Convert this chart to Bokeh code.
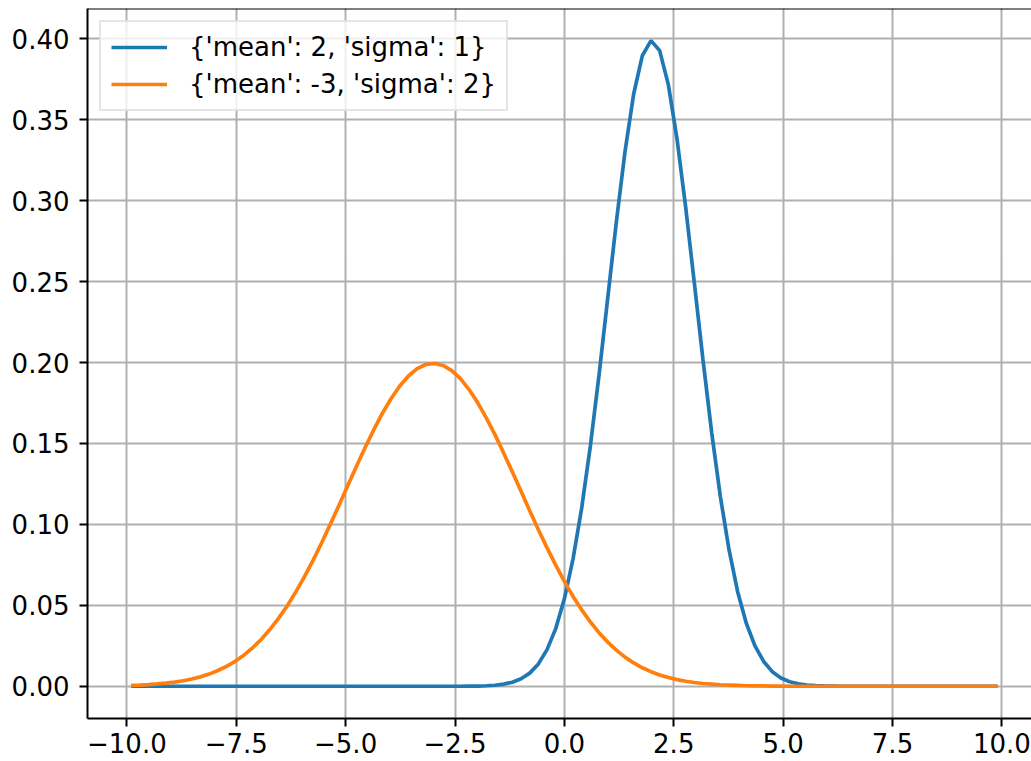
import numpy as np
from bokeh.plotting import figure
from bokeh.models import ColumnDataSource, Range1d, FixedTicker, Legend, LegendItem, Span
from bokeh.embed import file_html
from bokeh.resources import INLINE

# sample positions of the curves
x_vals = np.linspace(-9.9, 9.9, 101)

# series values
blue_label = "{'mean': 2, 'sigma': 1}"
blue_vals = [0.0] * 39 + [
    0.0001, 0.0001, 0.0003, 0.0006, 0.0013, 0.0025, 0.0046, 0.0081, 0.0138, 0.0226,
    0.0356, 0.0540, 0.0787, 0.1102, 0.1485, 0.1923, 0.2396, 0.2869, 0.3304, 0.3659,
    0.3896, 0.3989, 0.3927, 0.3717, 0.3383, 0.2961, 0.2492, 0.2017, 0.1569, 0.1174,
    0.0845, 0.0584, 0.0389, 0.0249, 0.0153, 0.0090, 0.0051, 0.0028, 0.0015, 0.0007,
    0.0004, 0.0002, 0.0001] + [0.0] * 19

orange_label = "{'mean': -3, 'sigma': 2}"
orange_vals = [
    0.0005, 0.0007, 0.0010, 0.0014, 0.0019, 0.0025, 0.0034, 0.0045, 0.0058, 0.0075,
    0.0097, 0.0123, 0.0154, 0.0192, 0.0237, 0.0289, 0.0350, 0.0419, 0.0496, 0.0583,
    0.0677, 0.0779, 0.0888, 0.1003, 0.1120, 0.1240, 0.1359, 0.1475, 0.1585, 0.1687,
    0.1778, 0.1855, 0.1917, 0.1962, 0.1988, 0.1994, 0.1982, 0.1950, 0.1900, 0.1833,
    0.1751, 0.1657, 0.1553, 0.1440, 0.1323, 0.1204, 0.1084, 0.0967, 0.0855, 0.0748,
    0.0648, 0.0555, 0.0472, 0.0397, 0.0331, 0.0273, 0.0223, 0.0180, 0.0144, 0.0114,
    0.0090, 0.0070, 0.0054, 0.0041, 0.0031, 0.0023, 0.0017, 0.0013, 0.0009, 0.0007,
    0.0005, 0.0003, 0.0002, 0.0002, 0.0001, 0.0001] + [0.0] * 25

# tick positions and labels
x_ticks = [-10, -7.5, -5, -2.5, 0, 2.5, 5, 7.5, 10]
x_tick_labels = ["\u221210.0", "\u22127.5", "\u22125.0", "\u22122.5", "0.0", "2.5", "5.0", "7.5", "10.0"]
y_ticks = [0.0, 0.05, 0.10, 0.15, 0.20, 0.25, 0.30, 0.35, 0.40]
y_tick_labels = ["0.00", "0.05", "0.10", "0.15", "0.20", "0.25", "0.30", "0.35", "0.40"]

source = ColumnDataSource(data=dict(x=x_vals, blue=blue_vals, orange=orange_vals))

FONT = "DejaVu Sans"
FS = "26px"
y_start, y_end = -0.01994, 0.41874

p = figure(width=1031, height=761, output_backend="svg", toolbar_location=None,
           x_range=Range1d(-10.90, 10.677), y_range=Range1d(y_start, y_end),
           min_border_left=87, min_border_right=0, min_border_top=8, min_border_bottom=43)
p.outline_line_color = None
p.background_fill_color = "white"
p.border_fill_color = "white"

r_blue = p.line("x", "blue", source=source, line_color="#1f77b4", line_width=3.7)
r_orange = p.line("x", "orange", source=source, line_color="#ff7f0e", line_width=3.7)

for ax, ticks, labels in ((p.xaxis[0], x_ticks, x_tick_labels), (p.yaxis[0], y_ticks, y_tick_labels)):
    ax.ticker = FixedTicker(ticks=ticks)
    ax.major_label_overrides = {t: l for t, l in zip(ticks, labels)}
    ax.major_label_text_font = FONT
    ax.major_label_text_font_size = FS
    ax.major_label_text_color = "black"
    ax.axis_line_width = 2.0
    ax.axis_line_color = "black"
    ax.major_tick_line_width = 2.0
    ax.major_tick_line_color = "black"
    ax.major_tick_out = 8
    ax.major_tick_in = 0
    ax.minor_tick_line_color = None
p.xaxis.major_label_standoff = 6
p.yaxis.major_label_standoff = 10

for g in (p.xgrid[0], p.ygrid[0]):
    g.grid_line_color = "#b0b0b0"
    g.grid_line_width = 2.0

top_spine = Span(location=y_end, dimension="width", line_color="black", line_width=2.0)
p.add_layout(top_spine)

legend = Legend(items=[LegendItem(label=blue_label, renderers=[r_blue]),
                       LegendItem(label=orange_label, renderers=[r_orange])],
                location="top_left", margin=12, padding=10, spacing=7,
                glyph_width=56, glyph_height=30, label_height=30, label_standoff=22,
                label_text_font=FONT, label_text_font_size=FS, label_text_color="black",
                background_fill_color="white", background_fill_alpha=0.8,
                border_line_color="#cccccc", border_line_width=2.0)
p.add_layout(legend)

open("out.html", "w").write(file_html(p, INLINE))
